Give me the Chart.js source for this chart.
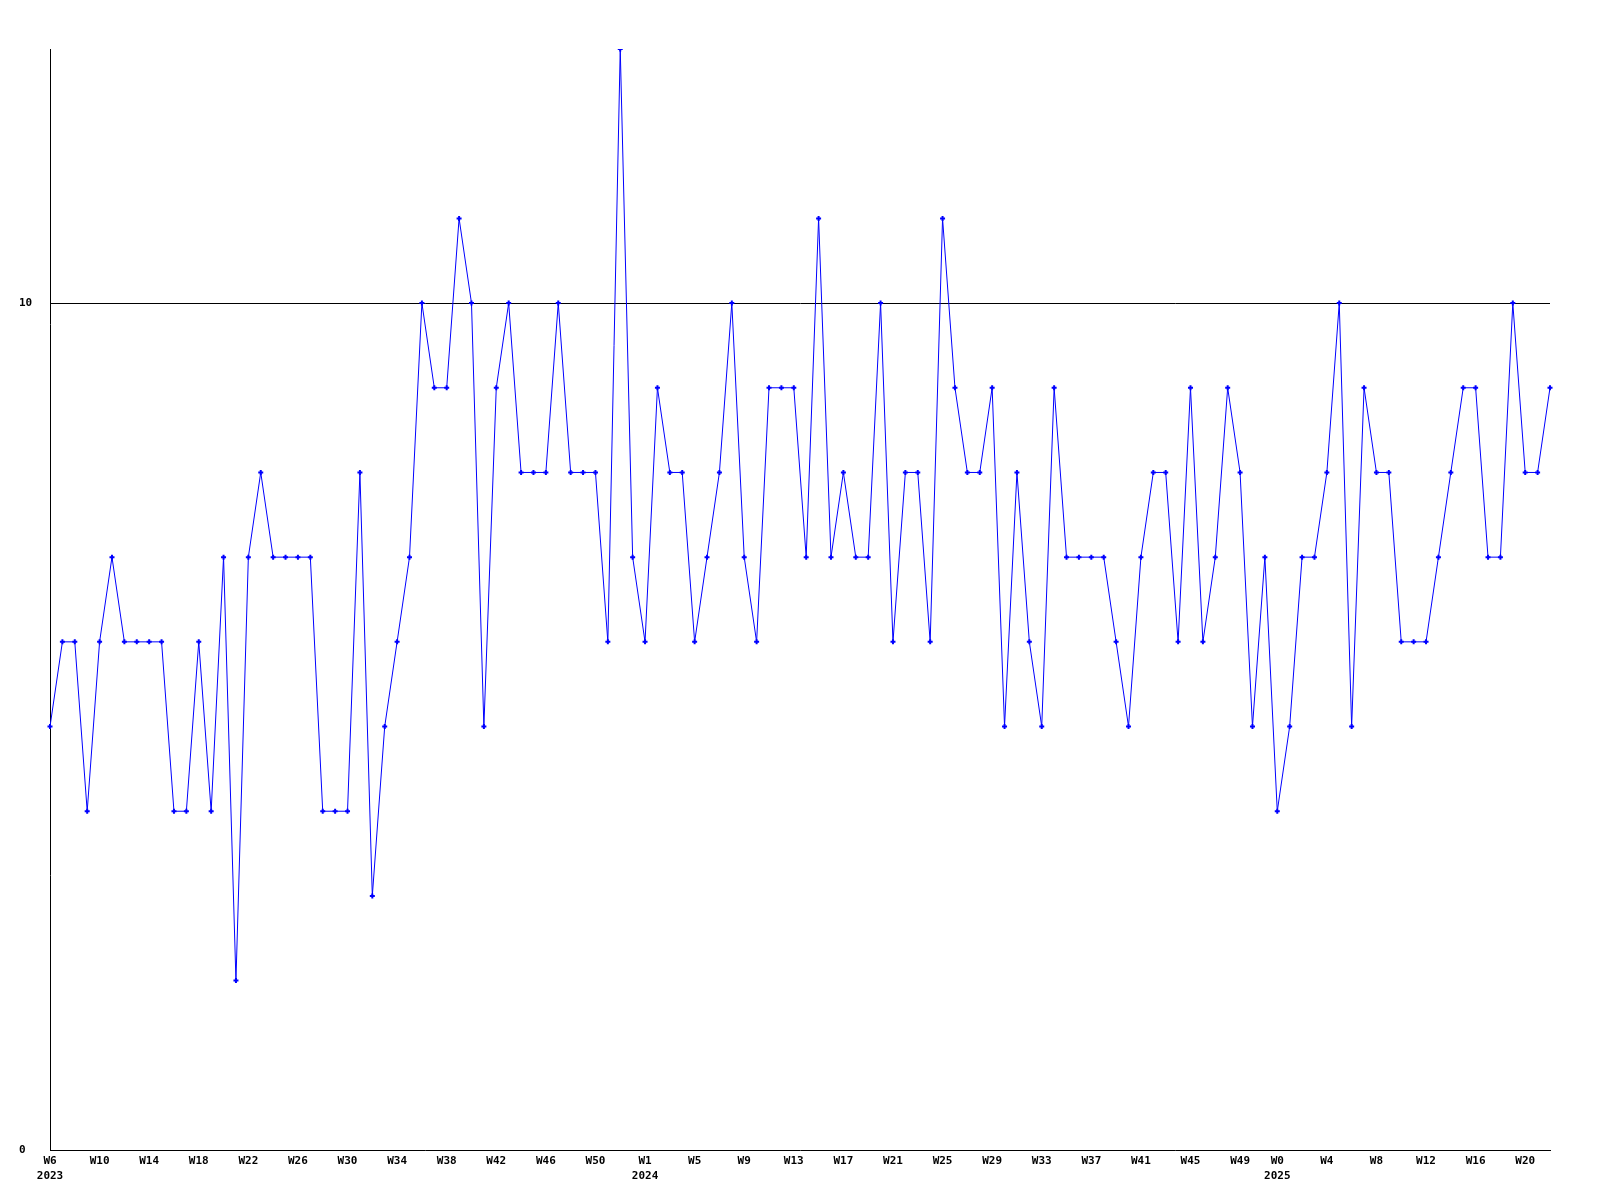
<!DOCTYPE html>
<html>
<head>
<meta charset="utf-8">
<script src="https://cdn.jsdelivr.net/npm/chart.js@4"></script>
<style>
  body { margin: 0; background: #fff; }
  canvas { display: block; }
</style>
</head>
<body>
<canvas id="weekChart" width="1600" height="1200"></canvas>
<script>
// Week ranges per year: [year, first week, last week]
const weekRanges = [
  [2023, 6, 53],
  [2024, 1, 51],
  [2025, 0, 22],
];

// Values per week
const counts = [
  5, 6, 6, 4, 6, 7, 6, 6, 6, 6,
  4, 4, 6, 4, 7, 2, 7, 8, 7, 7,
  7, 7, 4, 4, 4, 8, 3, 5, 6, 7,
  10, 9, 9, 11, 10, 5, 9, 10, 8, 8,
  8, 10, 8, 8, 8, 6, 13, 7, 6, 9,
  8, 8, 6, 7, 8, 10, 7, 6, 9, 9,
  9, 7, 11, 7, 8, 7, 7, 10, 6, 8,
  8, 6, 11, 9, 8, 8, 9, 5, 8, 6,
  5, 9, 7, 7, 7, 7, 6, 5, 7, 8,
  8, 6, 9, 6, 7, 9, 8, 5, 7, 4,
  5, 7, 7, 8, 10, 5, 9, 8, 8, 6,
  6, 6, 7, 8, 9, 9, 7, 7, 10, 8,
  8, 9,
];

// Positions (category index) that carry a tick label
const shownTicks = [
  0, 4, 8, 12, 16, 20, 24, 28, 32, 36, 40, 44,
  48, 52, 56, 60, 64, 68, 72, 76, 80, 84, 88, 92, 96,
  99, 103, 107, 111, 115, 119,
];

const yTicks = [0, 10];

// categories: "W6", "W7", ... and the year of each
const weeks = [];
const weekYears = [];
weekRanges.forEach(([year, from, to]) => {
  for (let w = from; w <= to; w++) {
    weeks.push("W" + w);
    weekYears.push(year);
  }
});

const tickFont = { family: "'DejaVu Sans Mono', monospace", size: 11, weight: "bold", lineHeight: 1.35 };

const ctx = document.getElementById("weekChart").getContext("2d");
new Chart(ctx, {
  type: "line",
  data: {
    labels: weeks,
    datasets: [
      {
        data: counts,
        borderColor: "#0000ff",
        borderWidth: 1,
        backgroundColor: "#0000ff",
        pointStyle: "cross",
        pointRadius: 2.5,
        pointBorderWidth: 2,
        pointBorderColor: "#0000ff",
        tension: 0,
      },
    ],
  },
  options: {
    responsive: false,
    animation: false,
    layout: { padding: { top: 49, right: 50, left: 19, bottom: 0 } },
    plugins: {
      legend: { display: false },
      tooltip: { enabled: false },
    },
    scales: {
      x: {
        offset: false,
        grid: { display: false, drawTicks: false },
        border: { display: true, color: "#000", width: 1 },
        ticks: {
          autoSkip: false,
          maxRotation: 0,
          minRotation: 0,
          padding: 4,
          color: "#000",
          font: tickFont,
          callback: (val, i) => {
            if (!shownTicks.includes(i)) return "";
            const first = i === 0 || weekYears[i] !== weekYears[i - 1];
            return first ? [weeks[i], String(weekYears[i])] : weeks[i];
          },
        },
        afterFit: (scale) => { scale.height = 50; },
      },
      y: {
        min: 0,
        max: 13,
        afterBuildTicks: (scale) => {
          scale.ticks = yTicks.map((v) => ({ value: v }));
        },
        grid: {
          drawTicks: false,
          color: (c) => (c.tick && c.tick.value === 10 ? "#000" : "rgba(0,0,0,0)"),
          lineWidth: 1,
        },
        border: { display: true, color: "#000", width: 1 },
        ticks: {
          crossAlign: "far",
          padding: 0,
          color: "#000",
          font: tickFont,
        },
        afterFit: (scale) => { scale.width = 31; },
      },
    },
  },
});
</script>
</body>
</html>
